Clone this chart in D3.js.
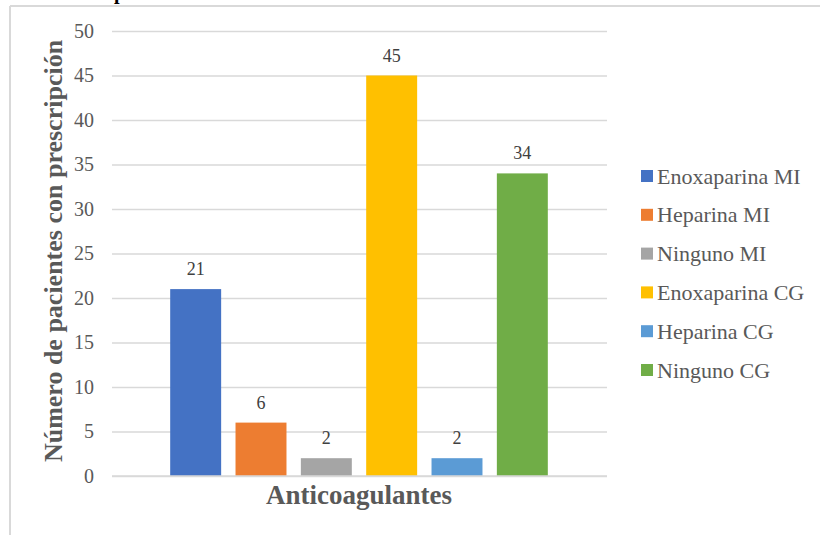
<!DOCTYPE html>
<html>
<head>
<meta charset="utf-8">
<script src="https://cdn.jsdelivr.net/npm/d3@7"></script>
<style>
  html, body { margin: 0; padding: 0; background: #ffffff; }
  svg { display: block; }
  svg text { font-family: "Liberation Serif", "Times New Roman", serif; }
</style>
</head>
<body>
<svg id="chart" width="820" height="535"></svg>
<script>
// Series names, values and colours
const series = ["Enoxaparina MI", "Heparina MI", "Ninguno MI", "Enoxaparina CG", "Heparina CG", "Ninguno CG"];
const values = [21, 6, 2, 45, 2, 34];
const colors = ["#4472c4", "#ed7d31", "#a5a5a5", "#ffc000", "#5b9bd5", "#70ad47"];
const yTicks = [0, 5, 10, 15, 20, 25, 30, 35, 40, 45, 50];
const xTitle = "Anticoagulantes";
const yTitle = "Número de pacientes con prescripción";

const svg = d3.select("#chart");
const font = "Liberation Serif, Times New Roman, serif";

// Outer frame (top and left edges visible)
svg.append("line").attr("x1", 10).attr("x2", 820).attr("y1", 6).attr("y2", 6)
  .attr("stroke", "#d9d9d9").attr("stroke-width", 2);
svg.append("line").attr("x1", 10).attr("x2", 10).attr("y1", 6).attr("y2", 535)
  .attr("stroke", "#d9d9d9").attr("stroke-width", 2);

// Title clipped by the top edge
svg.append("text").attr("x", 114).attr("y", -1)
  .style("font-family", font).attr("font-weight", "bold").style("font-size", "20px")
  .attr("fill", "#000").text("p");

const plot = { left: 112, right: 607, top: 31, bottom: 476 };

const y = d3.scaleLinear().domain([0, 50]).range([plot.bottom, plot.top]);
const x = d3.scaleBand().domain(series).range([163, 555])
  .paddingInner(0.22).paddingOuter(0.11);

// Gridlines and tick labels
const yAxis = d3.axisLeft(y).tickValues(yTicks).tickSize(-(plot.right - plot.left)).tickPadding(18);
const gy = svg.append("g").attr("transform", `translate(${plot.left},0)`).call(yAxis)
  .attr("font-family", null).attr("font-size", null);
gy.select(".domain").remove();
gy.selectAll(".tick line").attr("stroke", "#d9d9d9").attr("stroke-width", 1.5);
gy.selectAll(".tick text").style("font-family", font).style("font-size", "20px")
  .attr("fill", "#595959");

// Bars
svg.append("g").selectAll("rect").data(series).join("rect")
  .attr("x", d => x(d))
  .attr("width", x.bandwidth())
  .attr("y", (d, i) => y(values[i]))
  .attr("height", (d, i) => y(0) - y(values[i]))
  .attr("fill", (d, i) => colors[i]);

// Baseline redrawn over bars
svg.append("line").attr("x1", plot.left).attr("x2", plot.right)
  .attr("y1", y(0)).attr("y2", y(0)).attr("stroke", "#d9d9d9").attr("stroke-width", 1.5);

// Value labels
svg.append("g").selectAll("text").data(series).join("text")
  .attr("x", d => x(d) + x.bandwidth() / 2)
  .attr("y", (d, i) => y(values[i]) - 14)
  .attr("text-anchor", "middle")
  .style("font-family", font).style("font-size", "18px").attr("fill", "#404040")
  .text((d, i) => values[i]);

// Axis titles
svg.append("text").attr("x", 359).attr("y", 504).attr("text-anchor", "middle")
  .style("font-family", font).attr("font-weight", "bold").style("font-size", "27px")
  .attr("fill", "#595959").text(xTitle);

svg.append("text")
  .attr("transform", "translate(62,251) rotate(-90)")
  .attr("text-anchor", "middle")
  .style("font-family", font).attr("font-weight", "bold").style("font-size", "26px")
  .attr("fill", "#595959").text(yTitle);

// Legend
const legend = svg.append("g").attr("transform", "translate(641,176)");
const row = legend.selectAll("g").data(series).join("g")
  .attr("transform", (d, i) => `translate(0,${i * 38.8})`);
row.append("rect").attr("x", 0).attr("y", -6).attr("width", 12).attr("height", 12)
  .attr("fill", (d, i) => colors[i]);
row.append("text").attr("x", 16).attr("y", 7.5)
  .style("font-family", font).style("font-size", "22px").attr("fill", "#595959")
  .text(d => d);
</script>
</body>
</html>
